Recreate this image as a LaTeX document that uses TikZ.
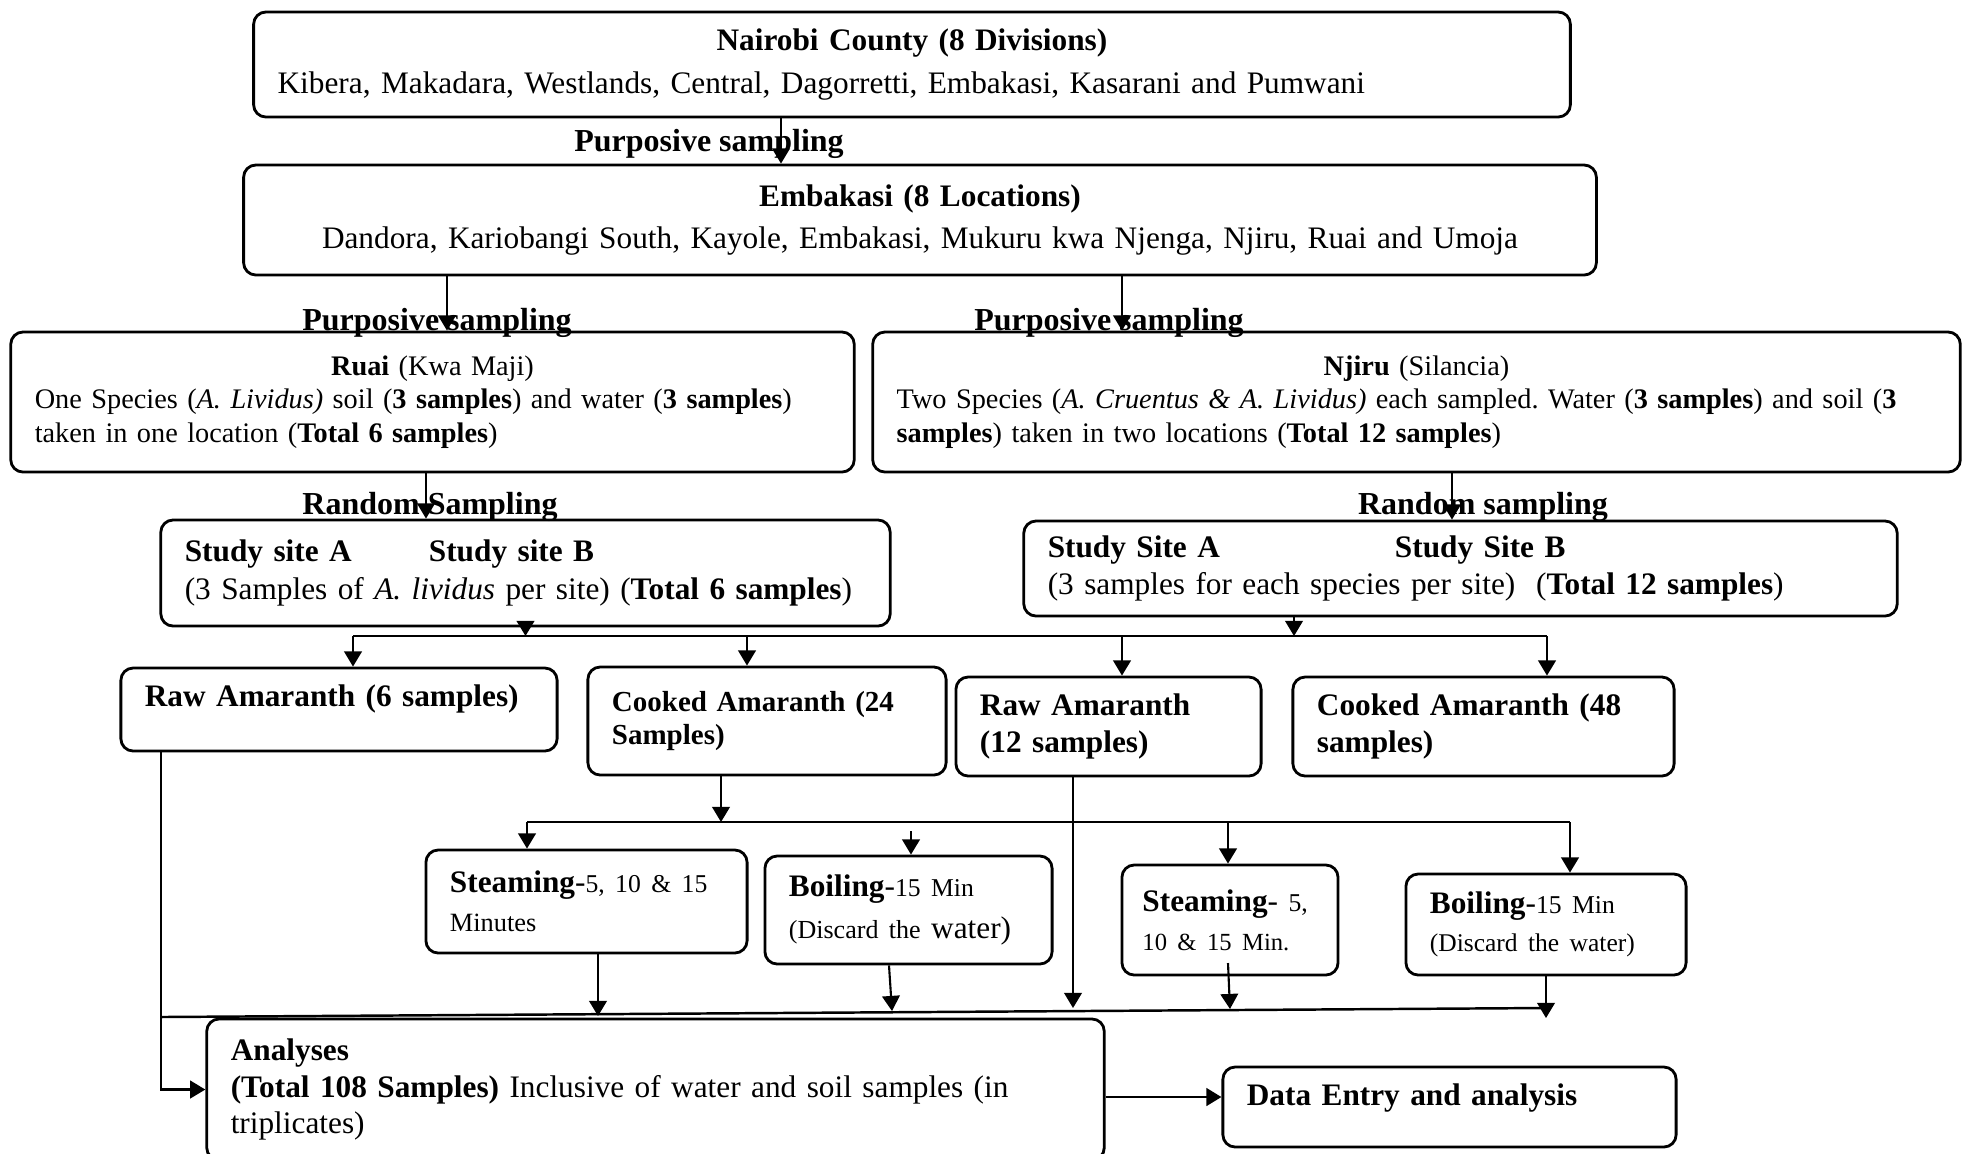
\documentclass[tikz,border=0pt]{standalone}
\usepackage{fontspec}
\setmainfont{Liberation Serif}
\usetikzlibrary{arrows.meta}

\newcommand\fL{\fontsize{8.9}{12.1}\selectfont}
\newcommand\fM{\fontsize{8.05}{9.6}\selectfont}
\newcommand\fS{\fontsize{7.3}{9}\selectfont}
\hyphenpenalty=10000
\exhyphenpenalty=10000
\frenchspacing

\begin{document}
\begin{tikzpicture}[x=0.01cm,y=-0.01cm,
    box/.style={draw, rounded corners=3.5pt, line width=0.8pt, inner xsep=0.24cm, inner ysep=0pt, align=left, font=\fL},
    arr/.style={-{Triangle[length=4.3pt,width=5pt]}, line width=0.6pt},
    lab/.style={font=\fontsize{9.1}{11}\selectfont\bfseries, inner sep=0pt}]
\useasboundingbox (0,0) rectangle (1963,1153);

% county and division
\node[box, text width=12.68cm, minimum height=1.05cm] (nairobi) at (912,64.5)
  {{\centering\textbf{Nairobi County (8 Divisions)}\par}Kibera, Makadara, Westlands, Central, Dagorretti, Embakasi, Kasarani and Pumwani};
\node[box, align=center, text width=13.04cm, minimum height=1.10cm] (embakasi) at (920,220)
  {\textbf{Embakasi (8 Locations)}\\Dandora, Kariobangi South, Kayole, Embakasi, Mukuru kwa Njenga, Njiru, Ruai and Umoja};

% locations
\node[box, font=\fontsize{8.05}{9.5}\selectfont, text width=7.95cm, minimum height=1.40cm] (ruai) at (432.5,402)
  {{\centering\textbf{Ruai} (Kwa Maji)\par}One Species (\textit{A. Lividus)} soil (\textbf{3 samples}) and water (\textbf{3 samples})\\taken in one location (\textbf{Total 6 samples})};
\node[box, font=\fontsize{8.05}{9.6}\selectfont, text width=10.39cm, minimum height=1.40cm] (njiru) at (1416.5,402)
  {{\centering\textbf{Njiru} (Silancia)\par}Two Species (\textit{A. Cruentus \& A. Lividus)} each sampled. Water (\textbf{3 samples}) and soil (\textbf{3}\\\textbf{samples}) taken in two locations (\textbf{Total 12 samples})};

% study sites
\node[box, font=\fontsize{8.9}{10.7}\selectfont, text width=6.81cm, minimum height=1.06cm] (siteL) at (525.5,573)
  {\makebox[2.44cm][l]{\textbf{Study site A}}\textbf{Study site B}\\(3 Samples of \textit{A. lividus} per site) (\textbf{Total 6 samples})};
\node[box, font=\fontsize{8.9}{10.3}\selectfont, text width=8.25cm, minimum height=0.95cm] (siteR) at (1460.5,568.5)
  {\makebox[3.47cm][l]{\textbf{Study Site A}}\textbf{Study Site B}\\(3 samples for each species per site)\ \ (\textbf{Total 12 samples})};

% raw and cooked
\node[box, text width=3.88cm, minimum height=0.83cm] (rawA) at (339,709.5)
  {\textbf{Raw Amaranth (6 samples)}\\[-4pt]\mbox{}};
\node[box, font=\fontsize{8.25}{9.6}\selectfont, text width=3.10cm, minimum height=1.08cm] (cookA) at (767,721)
  {\textbf{Cooked Amaranth (24\\Samples)}};
\node[box, font=\fontsize{8.9}{10.3}\selectfont, text width=2.57cm, minimum height=0.99cm] (rawB) at (1108.5,726.5)
  {\textbf{Raw Amaranth\\(12 samples)}};
\node[box, font=\fontsize{8.9}{10.3}\selectfont, text width=3.33cm, minimum height=0.99cm] (cookB) at (1483.5,726.5)
  {\textbf{Cooked Amaranth (48\\samples)}};

% cooking methods
\node[box, font=\fontsize{8.9}{11}\selectfont, text width=2.73cm, minimum height=1.03cm] (steamA) at (586.5,901.5)
  {\textbf{Steaming}-{\fontsize{7.3}{9}\selectfont 5, 10 \& 15}\\{\fontsize{7.5}{9}\selectfont Minutes}};
\node[box, text width=2.39cm, minimum height=1.08cm] (boilA) at (908.5,910)
  {\textbf{Boiling}-{\fS 15 Min}\\{\fontsize{7.4}{9}\selectfont (Discard the} water)};
\node[box, font=\fontsize{8.9}{11}\selectfont, inner xsep=0.205cm, text width=1.75cm, minimum height=1.10cm] (steamB) at (1230,920)
  {\textbf{Steaming}- {\fS 5,}\\{\fontsize{7.0}{9}\selectfont 10 \& 15 Min.}};
\node[box, font=\fontsize{8.9}{10.7}\selectfont, text width=2.32cm, minimum height=1.01cm] (boilB) at (1546,924.5)
  {\textbf{Boiling}-{\fS 15 Min}\\{\fontsize{7.25}{9}\selectfont (Discard the water)}};

% analyses
\node[box, font=\fontsize{8.9}{10.3}\selectfont, text width=8.49cm, minimum height=1.41cm] (analyses) at (655.5,1089.5)
  {\textbf{Analyses}\\\textbf{(Total 108 Samples)} Inclusive of water and soil samples (in\\triplicates)};
\node[box, text width=4.05cm, minimum height=0.80cm] (dataentry) at (1449.5,1107)
  {\textbf{Data Entry and analysis}\\[-5pt]\mbox{}};

% sampling labels
\node[lab] (psA) at (709,144) {Purposive sampling};
\node[lab] (psB) at (437,323) {Purposive sampling};
\node[lab] (psC) at (1109,323) {Purposive sampling};
\node[lab] (rsA) at (430,507) {Random Sampling};
\node[lab] (rsB) at (1483,507) {Random sampling};

\draw[arr] (781,0 |- nairobi.south) -- (781,0 |- embakasi.north);
\draw[arr] (447,0 |- embakasi.south) -- (447,0 |- ruai.north);
\draw[arr] (1122,0 |- embakasi.south) -- (1122,0 |- njiru.north);
\draw[arr] (426,0 |- ruai.south) -- (426,0 |- siteL.north);
\draw[arr] (1452,0 |- njiru.south) -- (1452,0 |- siteR.north);

% first split
\coordinate (busone) at (0,636);
\draw[line width=0.6pt] (353,0 |- busone) -- (1547,0 |- busone);
\draw[arr] (siteL.south) -- (siteL.south |- busone);
\draw[arr] (1294,0 |- siteR.south) -- (1294,0 |- busone);
\draw[arr] (353,0 |- busone) -- (353,0 |- rawA.north);
\draw[arr] (747,0 |- busone) -- (747,0 |- cookA.north);
\draw[arr] (1122,0 |- busone) -- (1122,0 |- rawB.north);
\draw[arr] (1547,0 |- busone) -- (1547,0 |- cookB.north);

% second split
\coordinate (bustwo) at (0,822);
\draw[line width=0.6pt] (527,0 |- bustwo) -- (1570,0 |- bustwo);
\draw[arr] (721,0 |- cookA.south) -- (721,0 |- bustwo);
\draw[arr] (527,0 |- bustwo) -- (527,0 |- steamA.north);
\draw[arr] (1228,0 |- bustwo) -- (1228,0 |- steamB.north);
\draw[arr] (1570,0 |- bustwo) -- (1570,0 |- boilB.north);
\coordinate (boiltop) at (911,831);
\draw[arr] (boiltop) -- (boiltop |- boilA.north);

% collecting line
\coordinate (busL) at (161,1017);
\coordinate (busR) at (1545,1008);
\draw[line width=0.7pt] (busL) -- (busR);
\draw[arr] (598,0 |- steamA.south) -- (598,1016);
\draw[arr] (889,0 |- boilA.south) -- (892,1011);
\draw[arr] (1073,0 |- rawB.south) -- (1073,1008);
\draw[arr] (1228,963) -- (1230,1009);
\draw[arr] (boilB.south) -- (1546,1018);
\draw[arr] (161,0 |- rawA.south) |- (analyses.west);
\draw[arr, line width=0.8pt] (analyses.east |- 0,1097) -- (dataentry.west |- 0,1097);

\end{tikzpicture}
\end{document}
